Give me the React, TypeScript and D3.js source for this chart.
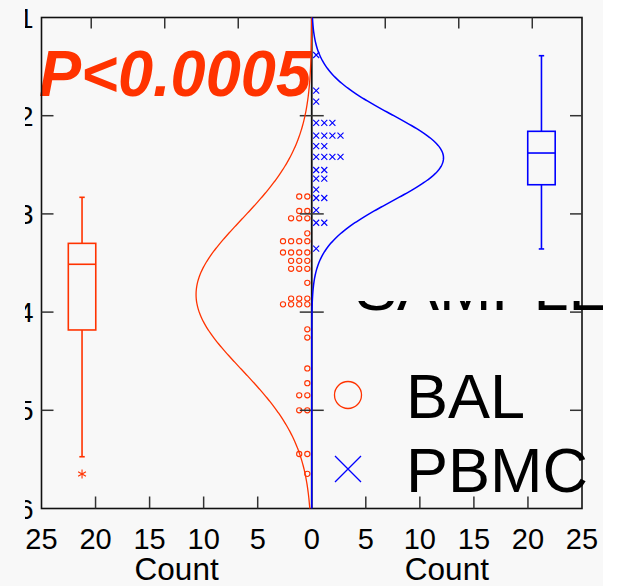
import React from 'react';
import * as d3 from 'd3';

const W = 620;
const H = 586;

// value axis (inverted, 1 at top)
const yTicks = [1, 2, 3, 4, 5, 6];
const countTicksLeft = [25, 20, 15, 10, 5, 0];
const countTicksRight = [5, 10, 15, 20, 25];
const propTicks = [0.1, 0.2, 0.3];
const groupNames = ['BAL', 'PBMC'];

// dot-density rows: value and number of stacked symbols
const balValues = [2.823, 2.97, 3.045, 3.198, 3.278, 3.393, 3.478, 3.559, 3.702, 3.862, 3.921, 4.175, 4.259, 4.574, 4.724, 4.847, 5.0, 5.445, 5.647];
const balCounts = [2, 2, 3, 1, 4, 4, 3, 3, 1, 3, 4, 1, 1, 1, 1, 2, 2, 2, 1];
const pbmcValues = [1.382, 1.745, 1.857, 2.074, 2.202, 2.309, 2.419, 2.553, 2.64, 2.752, 2.838, 2.962, 3.09, 3.354];
const pbmcCounts = [1, 1, 1, 3, 4, 2, 4, 2, 2, 1, 2, 1, 2, 1];

// box plots: [whisker low, q1, median, q3, whisker high]
const balBox = [2.831, 3.3, 3.513, 4.182, 5.473];
const balOutliers = [5.649];
const pbmcBox = [1.389, 2.159, 2.38, 2.703, 3.357];
const pbmcOutliers: number[] = [];

const pText = 'P<0.0005';
const binWidth = 0.5;

const RED = '#ff3300';
const BLUE = '#0000ff';
const AX = '#111111';
const FONT = "'Liberation Sans', Arial, Helvetica, sans-serif";

function expand(values: number[], counts: number[]) {
  const out: number[] = [];
  values.forEach((v, i) => {
    for (let k = 0; k < counts[i]; k++) out.push(v);
  });
  return out;
}

export default function App() {
  const left = 41.5;
  const right = 582;
  const top = 17.5;
  const bottom = 508.5;
  const mid = (left + right) / 2;

  const y = d3.scaleLinear().domain([1, 6]).range([top, bottom]);
  const xL = d3.scaleLinear().domain([0, 25]).range([mid, left]);
  const xR = d3.scaleLinear().domain([0, 25]).range([mid, right]);

  const balAll = expand(balValues, balCounts);
  const pbmcAll = expand(pbmcValues, pbmcCounts);
  const totalN = balAll.length + pbmcAll.length;

  const normalCurve = (data: number[], xs: d3.ScaleLinear<number, number>) => {
    const m = d3.mean(data) as number;
    const s = d3.deviation(data) as number;
    const n = data.length;
    const pts: [number, number][] = d3.range(1, 6.0001, 0.01).map((v) => {
      const c = (n * binWidth) / (s * Math.sqrt(2 * Math.PI)) * Math.exp(-((v - m) ** 2) / (2 * s * s));
      return [xs(c), y(v)];
    });
    return d3.line()(pts) as string;
  };

  const dotStep = 0.75;
  const dotStart = 0.41;
  const boxPos = 21.25;
  const boxHalf = 1.27;
  const capHalf = 0.25;

  const renderBox = (b: number[], outs: number[], xs: d3.ScaleLinear<number, number>, color: string) => {
    const cx = xs(boxPos);
    const x0 = Math.min(xs(boxPos - boxHalf), xs(boxPos + boxHalf));
    const x1 = Math.max(xs(boxPos - boxHalf), xs(boxPos + boxHalf));
    const cw = Math.abs(xs(capHalf) - xs(0));
    return (
      <g stroke={color} strokeWidth={1.6} fill="none">
        <line x1={cx} x2={cx} y1={y(b[0])} y2={y(b[1])} />
        <line x1={cx} x2={cx} y1={y(b[3])} y2={y(b[4])} />
        <line x1={cx - cw} x2={cx + cw} y1={y(b[0])} y2={y(b[0])} />
        <line x1={cx - cw} x2={cx + cw} y1={y(b[4])} y2={y(b[4])} />
        <rect x={x0} y={y(b[1])} width={x1 - x0} height={y(b[3]) - y(b[1])} />
        <line x1={x0} x2={x1} y1={y(b[2])} y2={y(b[2])} />
        {outs.map((o, i) => {
          const oy = y(o);
          const r = 4.5;
          return (
            <g key={i} strokeWidth={1.1}>
              <line x1={cx} x2={cx} y1={oy - r} y2={oy + r} />
              <line x1={cx - r * 0.87} x2={cx + r * 0.87} y1={oy - r * 0.5} y2={oy + r * 0.5} />
              <line x1={cx - r * 0.87} x2={cx + r * 0.87} y1={oy + r * 0.5} y2={oy - r * 0.5} />
            </g>
          );
        })}
      </g>
    );
  };

  const balDots: JSX.Element[] = [];
  balValues.forEach((v, i) => {
    for (let k = 0; k < balCounts[i]; k++) {
      balDots.push(
        <circle key={`b${i}-${k}`} cx={xL(dotStart + k * dotStep)} cy={y(v)} r={2.6} fill="none" stroke={RED} strokeWidth={1.1} />
      );
    }
  });
  const pbmcDots: JSX.Element[] = [];
  const xs = 3;
  pbmcValues.forEach((v, i) => {
    for (let k = 0; k < pbmcCounts[i]; k++) {
      const cx = xR(dotStart + k * dotStep);
      const cy = y(v);
      pbmcDots.push(
        <path key={`p${i}-${k}`} d={`M${cx - xs},${cy - xs}L${cx + xs},${cy + xs}M${cx - xs},${cy + xs}L${cx + xs},${cy - xs}`} stroke={BLUE} strokeWidth={1.1} fill="none" />
      );
    }
  });

  const inner = [2, 3, 4, 5];
  const tickLen = 12;

  return (
    <svg width={W} height={H} style={{ position: 'absolute', left: 0, top: 0 }} fontFamily={FONT}>
      <defs>
        <clipPath id="ylabClip">
          <rect x={25} y={0} width={W} height={H} />
        </clipPath>
        <clipPath id="legClip">
          <rect x={0} y={301} width={603} height={H} />
        </clipPath>
      </defs>
      <rect x={0} y={0} width={W} height={H} fill="#f8f8f8" />
      <rect x={603} y={0} width={W - 603} height={H} fill="#ffffff" />

      {/* P value */}
      <text x={39} y={96} fontSize={65} fontWeight="bold" fontStyle="italic" fill={RED} textLength={272} lengthAdjust="spacingAndGlyphs">
        {pText}
      </text>

      {/* box plots */}
      {renderBox(balBox, balOutliers, xL, RED)}
      {renderBox(pbmcBox, pbmcOutliers, xR, BLUE)}

      {/* dots */}
      {balDots}
      {pbmcDots}

      {/* frame */}
      <rect x={left} y={top} width={right - left} height={bottom - top} fill="none" stroke={AX} strokeWidth={1.6} />
      <line x1={mid} x2={mid} y1={top} y2={bottom} stroke={AX} strokeWidth={1.8} />

      {/* ticks */}
      <g stroke="#333" strokeWidth={1.5}>
        {inner.map((v) => (
          <g key={v}>
            <line x1={left} x2={left + tickLen} y1={y(v)} y2={y(v)} />
            <line x1={right - tickLen} x2={right} y1={y(v)} y2={y(v)} />
            <line x1={mid - tickLen} x2={mid + tickLen} y1={y(v)} y2={y(v)} />
          </g>
        ))}
        {countTicksRight.filter((c) => c < 25).map((c) => (
          <g key={c}>
            <line x1={xL(c)} x2={xL(c)} y1={bottom} y2={bottom - tickLen} />
            <line x1={xR(c)} x2={xR(c)} y1={bottom} y2={bottom - tickLen} />
          </g>
        ))}
        {propTicks.map((p) => (
          <g key={p}>
            <line x1={xL(p * totalN)} x2={xL(p * totalN)} y1={top} y2={top + 11} />
            <line x1={xR(p * totalN)} x2={xR(p * totalN)} y1={top} y2={top + 11} />
          </g>
        ))}
      </g>

      {/* normal curves */}
      <path d={normalCurve(balAll, xL)} fill="none" stroke={RED} strokeWidth={1.3} />
      <path d={normalCurve(pbmcAll, xR)} fill="none" stroke={BLUE} strokeWidth={1.5} />

      {/* y labels, clipped */}
      <g clipPath="url(#ylabClip)" fontSize={28} fill="#000" textAnchor="end">
        {yTicks.map((v) => (
          <text key={v} x={33.5} y={y(v)} dy="0.36em">
            {v}
          </text>
        ))}
      </g>

      {/* x labels */}
      <g fontSize={29} fill="#000" textAnchor="middle">
        {countTicksLeft.map((c) => (
          <text key={`l${c}`} x={xL(c)} y={549}>
            {c}
          </text>
        ))}
        {countTicksRight.map((c) => (
          <text key={`r${c}`} x={xR(c)} y={549}>
            {c}
          </text>
        ))}
        <text x={(left + mid) / 2} y={580} fontSize={31.5}>Count</text>
        <text x={(mid + right) / 2} y={580} fontSize={31.5}>Count</text>
      </g>

      {/* legend */}
      <g clipPath="url(#legClip)">
        <text x={355} y={310} fontSize={63} fill="#000">SAMPLE</text>
      </g>
      <circle cx={348} cy={395} r={13.5} fill="none" stroke={RED} strokeWidth={1.3} />
      <text x={406} y={418} fontSize={63} fill="#000">{groupNames[0]}</text>
      <path d={`M${335},${456}L${361},${482}M${335},${482}L${361},${456}`} stroke={BLUE} strokeWidth={1.3} fill="none" />
      <text x={406} y={492} fontSize={63} fill="#000">{groupNames[1]}</text>
    </svg>
  );
}
